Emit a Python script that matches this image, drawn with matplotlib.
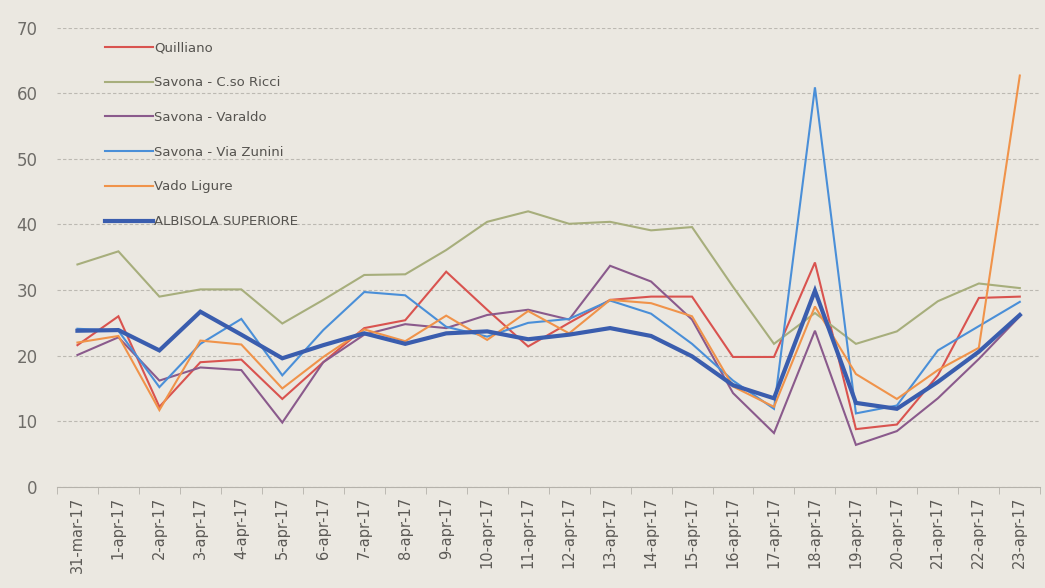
import matplotlib.pyplot as plt
import numpy as np

# date labels on the category axis
dates = ["31-mar-17"] + [f"{d}-apr-17" for d in range(1, 24)]

# daily values per station
quilliano = [21.6, 26.0, 12.2, 19.0, 19.4, 13.4, 19.0, 24.2, 25.4, 32.8, 27.0, 21.4,
             25.0, 28.5, 29.0, 29.0, 19.8, 19.8, 34.2, 8.8, 9.5, 17.0, 28.8, 29.0]
ricci = [33.9, 35.9, 29.0, 30.1, 30.1, 24.9, 28.5, 32.3, 32.4, 36.1, 40.4, 42.0,
         40.1, 40.4, 39.1, 39.6, 30.5, 21.8, 26.5, 21.8, 23.7, 28.3, 31.0, 30.3]
varaldo = [20.1, 22.8, 16.2, 18.2, 17.8, 9.8, 19.0, 23.2, 24.8, 24.2, 26.2, 27.0,
           25.5, 33.7, 31.3, 25.5, 14.3, 8.2, 23.8, 6.4, 8.5, 13.5, 19.5, 26.0]
zunini = [24.1, 23.8, 15.2, 21.8, 25.6, 17.0, 23.9, 29.7, 29.2, 24.4, 22.9, 25.0,
          25.6, 28.4, 26.4, 21.8, 16.2, 11.9, 60.9, 11.2, 12.4, 20.8, 24.5, 28.2]
vado = [22.0, 23.0, 11.7, 22.3, 21.7, 15.0, 19.8, 24.0, 22.2, 26.1, 22.4, 26.8,
        23.4, 28.5, 28.0, 26.0, 15.3, 12.2, 27.5, 17.2, 13.4, 17.8, 21.2, 62.7]
albisola = [23.8, 23.9, 20.8, 26.7, 23.2, 19.6, 21.6, 23.4, 21.8, 23.4, 23.7, 22.5,
            23.2, 24.2, 23.0, 19.9, 15.5, 13.5, 29.9, 12.8, 11.9, 16.0, 20.6, 26.2]

series = [
    ("Quilliano", quilliano, "#d9534f", 1.5),
    ("Savona - C.so Ricci", ricci, "#a7ae7c", 1.5),
    ("Savona - Varaldo", varaldo, "#8a5a8c", 1.5),
    ("Savona - Via Zunini", zunini, "#4a8fd8", 1.5),
    ("Vado Ligure", vado, "#f0934a", 1.5),
    ("ALBISOLA SUPERIORE", albisola, "#3a5dae", 3.0),
]

plt.rcParams['font.family'] = ['DejaVu Sans']

bg = "#ebe8e1"
fig = plt.figure(figsize=(10.45, 5.88), dpi=100, facecolor=bg)
ax = fig.add_axes([0.0545, 0.172, 0.941, 0.781], facecolor=bg)

x = np.arange(len(dates))
for name, vals, col, lw in series:
    ax.plot(x, vals, color=col, lw=lw, label=name, solid_joinstyle='miter')

ax.set_xlim(-0.5, len(dates) - 0.5)
ax.set_ylim(0, 70)
ax.set_yticks(range(0, 71, 10))
ax.grid(axis='y', color='#bcb9b2', lw=0.8, ls=(0, (3, 2)))
ax.set_axisbelow(True)

for s in ['top', 'right', 'left']:
    ax.spines[s].set_visible(False)
ax.spines['bottom'].set_color('#b5b2ab')

ax.tick_params(axis='y', length=0, pad=14, labelsize=12, labelcolor='#6e6c68')
ax.set_xticks(x)
ax.set_xticklabels(dates, rotation=90, fontsize=10.5, color='#5c5a56')
ax.tick_params(axis='x', which='major', length=0, pad=7)
ax.set_xticks(np.arange(-0.5, len(dates), 1), minor=True)
ax.tick_params(axis='x', which='minor', length=5, color='#b5b2ab')

leg = ax.legend(loc='upper left', bbox_to_anchor=(0.037, 0.996), frameon=False,
                fontsize=9.5, labelspacing=1.65, handlelength=3.6, handletextpad=0.1,
                labelcolor='#55534f')

fig.savefig("out.png", dpi=100, facecolor=bg)
